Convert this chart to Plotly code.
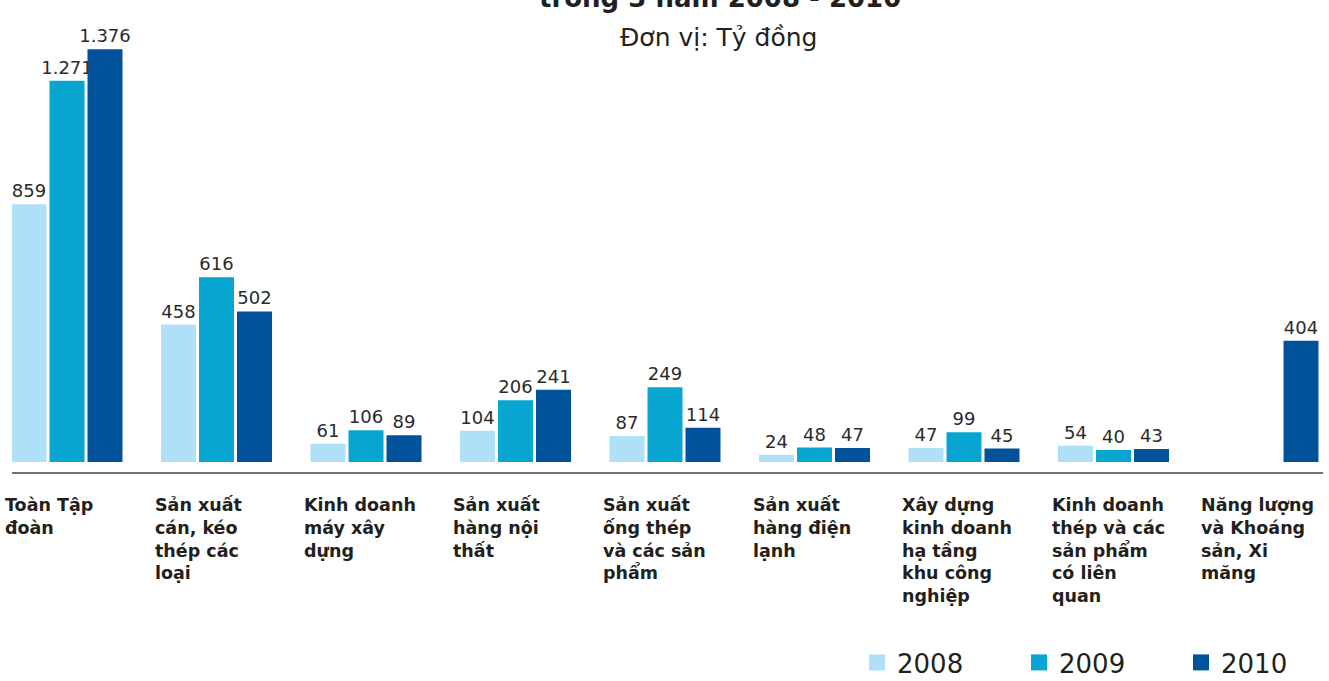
import plotly.graph_objects as go

# Revenue by business line, 2008-2010 (billion VND)
categories = [
    "Toàn Tập<br>đoàn",
    "Sản xuất<br>cán, kéo<br>thép các<br>loại",
    "Kinh doanh<br>máy xây<br>dựng",
    "Sản xuất<br>hàng nội<br>thất",
    "Sản xuất<br>ống thép<br>và các sản<br>phẩm",
    "Sản xuất<br>hàng điện<br>lạnh",
    "Xây dựng<br>kinh doanh<br>hạ tầng<br>khu công<br>nghiệp",
    "Kinh doanh<br>thép và các<br>sản phẩm<br>có liên<br>quan",
    "Năng lượng<br>và Khoáng<br>sản, Xi<br>măng",
]
years = ["2008", "2009", "2010"]
values_2008 = [859, 458, 61, 104, 87, 24, 47, 54, None]
values_2009 = [1271, 616, 106, 206, 249, 48, 99, 40, None]
values_2010 = [1376, 502, 89, 241, 114, 47, 45, 43, 404]
colors = ["#aee0f8", "#08a5d0", "#00539b"]

title_text = "trong 3 năm 2008 - 2010"
subtitle_text = "Đơn vị: Tỷ đồng"

W, H = 1329, 681
M_L, M_R, M_T, M_B = 12, 6, 48, 209
PLOT_H = H - M_T - M_B
PLOT_W = W - M_L - M_R
GROUP_PX = 149.5          # pixels per category step
X_MIN = -55 / GROUP_PX    # left end of the x range
FONT = "DejaVu Sans"
TEXT_COLOR = "#231f20"


def py(pixel_y):
    """Pixel row -> paper y."""
    return (H - M_B - pixel_y) / PLOT_H


def px(pixel_x):
    """Pixel column -> paper x."""
    return (pixel_x - M_L) / PLOT_W


def cat_px(i):
    """Pixel column of a category's centre."""
    return M_L + (i - X_MIN) * GROUP_PX


xs = list(range(len(categories)))
series = [values_2008, values_2009, values_2010]

fig = go.Figure()
for name, vals, col in zip(years, series, colors):
    fig.add_trace(go.Bar(
        x=xs, y=vals, name=name, marker=dict(color=col, line=dict(width=0)),
        texttemplate="%{y:,}", textposition="outside", constraintext="none",
        textfont=dict(family=FONT, size=18, color="#2b2b2b"),
        cliponaxis=False, showlegend=False,
    ))

# legend entries with larger square swatches
for name, col in zip(years, colors):
    fig.add_trace(go.Scatter(
        x=[None], y=[None], mode="markers", name=name,
        marker=dict(symbol="square", size=17, color=col),
    ))

# category labels, left-aligned beneath each group
for i, cat in enumerate(categories):
    fig.add_annotation(
        x=px(cat_px(i) - 64), xref="paper", xanchor="left",
        y=py(493), yref="paper", yanchor="top",
        text=cat, showarrow=False, align="left",
        font=dict(family=FONT, size=17.5, color=TEXT_COLOR, weight="bold"),
    )

fig.add_annotation(
    x=px(720), xref="paper", xanchor="center",
    y=py(15), yref="paper", yanchor="bottom",
    text="<b>" + title_text + "</b>", showarrow=False,
    font=dict(family=FONT, size=26, color=TEXT_COLOR),
)
fig.add_annotation(
    x=px(718), xref="paper", xanchor="center",
    y=py(54), yref="paper", yanchor="bottom",
    text=subtitle_text, showarrow=False,
    font=dict(family=FONT, size=25, color=TEXT_COLOR),
)

fig.update_layout(
    width=W, height=H,
    margin=dict(l=M_L, r=M_R, t=M_T, b=M_B, pad=0, autoexpand=False),
    paper_bgcolor="white", plot_bgcolor="white",
    separators=",.",
    barmode="group", bargap=0.2375, bargroupgap=0.079,
    showlegend=True,
    legend=dict(
        orientation="h",
        xref="container", x=857 / W, xanchor="left",
        yref="container", y=1 - 639 / H, yanchor="top",
        font=dict(family=FONT, size=26, color=TEXT_COLOR),
        entrywidth=117, itemsizing="trace",
        bgcolor="rgba(0,0,0,0)",
    ),
    xaxis=dict(
        range=[X_MIN, X_MIN + PLOT_W / GROUP_PX],
        showline=True, linecolor="#737373", linewidth=2,
        showticklabels=False, ticks="", showgrid=False, zeroline=False,
    ),
    yaxis=dict(
        range=[-10 / 0.3, 414 / 0.3], visible=False,
        showgrid=False, zeroline=False,
    ),
)

fig.write_html("out.html")
